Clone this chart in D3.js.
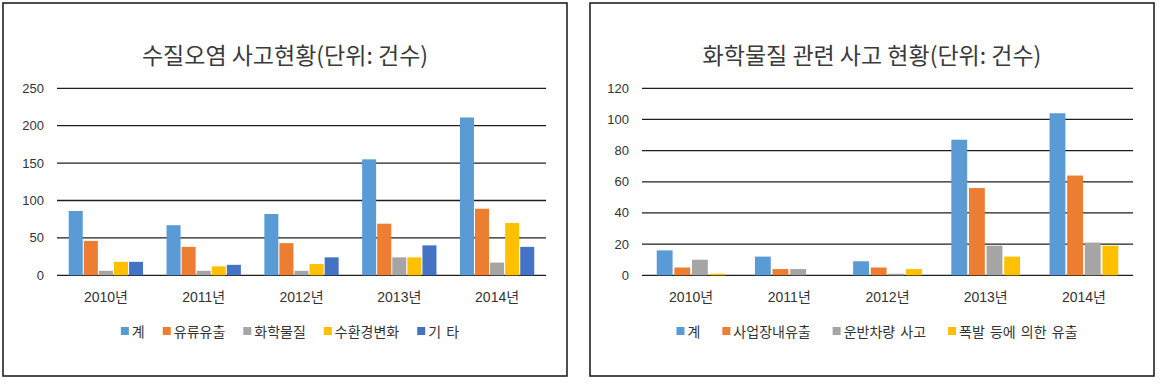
<!DOCTYPE html>
<html>

<head>
    <meta charset="UTF-8">
    <title>수질오염 / 화학물질 사고현황</title>
    <style>
        body {
            margin: 0;
            background: #fff;
        }

        svg text {
            font-family: "Liberation Sans", "Noto Sans CJK KR", sans-serif;
            fill: #333;
        }
    </style>
</head>

<body>
    <svg></svg>
    <script src="https://d3js.org/d3.v7.min.js"></script>
    <script>

        // data
        const years = ["2010년", "2011년", "2012년", "2013년", "2014년"];

        const waterTitle = "수질오염 사고현황(단위: 건수)";
        const waterSeries = ["계", "유류유출", "화학물질", "수환경변화", "기 타"];
        const waterTotal = [86, 67, 82, 155, 211];
        const waterOil = [46, 38, 43, 69, 89];
        const waterChem = [6, 6, 6, 24, 17];
        const waterEnv = [18, 12, 15, 24, 70];
        const waterEtc = [18, 14, 24, 40, 38];
        const waterTicks = [0, 50, 100, 150, 200, 250];

        const chemTitle = "화학물질 관련 사고 현황(단위: 건수)";
        const chemSeries = ["계", "사업장내유출", "운반차량 사고", "폭발 등에 의한 유출"];
        const chemTotal = [16, 12, 9, 87, 104];
        const chemSite = [5, 4, 5, 56, 64];
        const chemTransport = [10, 4, 1, 19, 21];
        const chemExplosion = [1, 0, 4, 12, 19];
        const chemTicks = [0, 20, 40, 60, 80, 100, 120];

        const colors = ["#5B9BD5", "#ED7D31", "#A5A5A5", "#FFC000", "#4472C4"];

        let width = 1160, height = 384

        let svg = d3.select("svg")
            .attr("width", width)
            .attr("height", height)

        function drawChart(o) {
            let g = svg.append("g");

            // panel frame
            g.append("rect")
                .attr("x", o.box[0]).attr("y", o.box[1])
                .attr("width", o.box[2] - o.box[0]).attr("height", o.box[3] - o.box[1])
                .attr("fill", "none")
                .attr("stroke", "#222")
                .attr("stroke-width", 1.6);

            let cx = (o.box[0] + o.box[2]) / 2;

            g.append("text")
                .attr("x", cx)
                .attr("y", 54)
                .attr("text-anchor", "middle")
                .attr("dominant-baseline", "central")
                .style("font-family", "'Noto Sans CJK KR', sans-serif")
                .style("font-size", "23px")
                .style("fill", "#3a3a3a")
                .text(o.title);

            let y = d3.scaleLinear()
                .domain([0, o.max])
                .range([275.3, 88.3]);

            let x0 = d3.scaleBand()
                .domain(years)
                .range([o.left, o.right])
                .paddingInner(o.pad)
                .paddingOuter(o.pad / 2);

            let x1 = d3.scaleBand()
                .domain(o.series)
                .range([0, x0.bandwidth()])
                .paddingInner(o.pad1);

            // gridlines (include the baseline)
            g.append("g")
                .selectAll("line")
                .data(o.ticks)
                .enter()
                .append("line")
                .attr("x1", o.left)
                .attr("x2", o.right)
                .attr("y1", d => y(d))
                .attr("y2", d => y(d))
                .attr("stroke", "#1e1e1e")
                .attr("stroke-width", 1.3);

            g.append("g")
                .selectAll("text")
                .data(o.ticks)
                .enter()
                .append("text")
                .attr("x", o.left - 13)
                .attr("y", d => y(d))
                .attr("text-anchor", "end")
                .attr("dominant-baseline", "central")
                .style("font-size", "13px")
                .text(d => d);

            // bars
            let rows = years.map((yr, i) => ({
                year: yr,
                vals: o.series.map((s, j) => ({ key: s, value: o.values[j][i], color: colors[j] }))
            }));

            g.append("g")
                .selectAll("g")
                .data(rows)
                .enter()
                .append("g")
                .attr("transform", d => "translate(" + x0(d.year) + ",0)")
                .selectAll("rect")
                .data(d => d.vals)
                .enter()
                .append("rect")
                .attr("x", d => x1(d.key))
                .attr("width", x1.bandwidth())
                .attr("y", d => y(d.value))
                .attr("height", d => y(0) - y(d.value))
                .attr("fill", d => d.color);

            // x labels
            g.append("g")
                .selectAll("text")
                .data(years)
                .enter()
                .append("text")
                .attr("x", d => x0(d) + x0.bandwidth() / 2)
                .attr("y", 297)
                .attr("text-anchor", "middle")
                .attr("dominant-baseline", "central")
                .style("font-size", "14px")
                .text(d => d);

            // legend
            let legend = g.append("g");
            let items = legend.selectAll("g")
                .data(o.series)
                .enter()
                .append("g");
            items.append("rect")
                .attr("width", 8).attr("height", 8)
                .attr("y", 327)
                .attr("fill", (d, i) => colors[i]);
            items.append("text")
                .attr("x", 11)
                .attr("y", 331)
                .attr("dominant-baseline", "central")
                .style("font-family", "'Noto Sans CJK KR', sans-serif")
                .style("font-size", "14px")
                .style("word-spacing", "2px")
                .text(d => d);

            let pos = 0, offs = [];
            items.each(function () {
                offs.push(pos);
                pos += 11 + d3.select(this).select("text").node().getComputedTextLength() + o.gap;
            });
            let start = cx - (pos - o.gap) / 2 + 5;
            items.attr("transform", (d, i) => "translate(" + (start + offs[i]) + ",0)");
        }

        drawChart({
            box: [3, 3, 567, 376],
            title: waterTitle,
            series: waterSeries,
            values: [waterTotal, waterOil, waterChem, waterEnv, waterEtc],
            ticks: waterTicks,
            max: 250,
            left: 57, right: 546,
            pad: 0.24, pad1: 0.07,
            gap: 18
        });

        drawChart({
            box: [590, 3, 1154, 376],
            title: chemTitle,
            series: chemSeries,
            values: [chemTotal, chemSite, chemTransport, chemExplosion],
            ticks: chemTicks,
            max: 120,
            left: 642, right: 1133,
            pad: 0.3, pad1: 0.1,
            gap: 22
        });
    </script>

</body>

</html>
